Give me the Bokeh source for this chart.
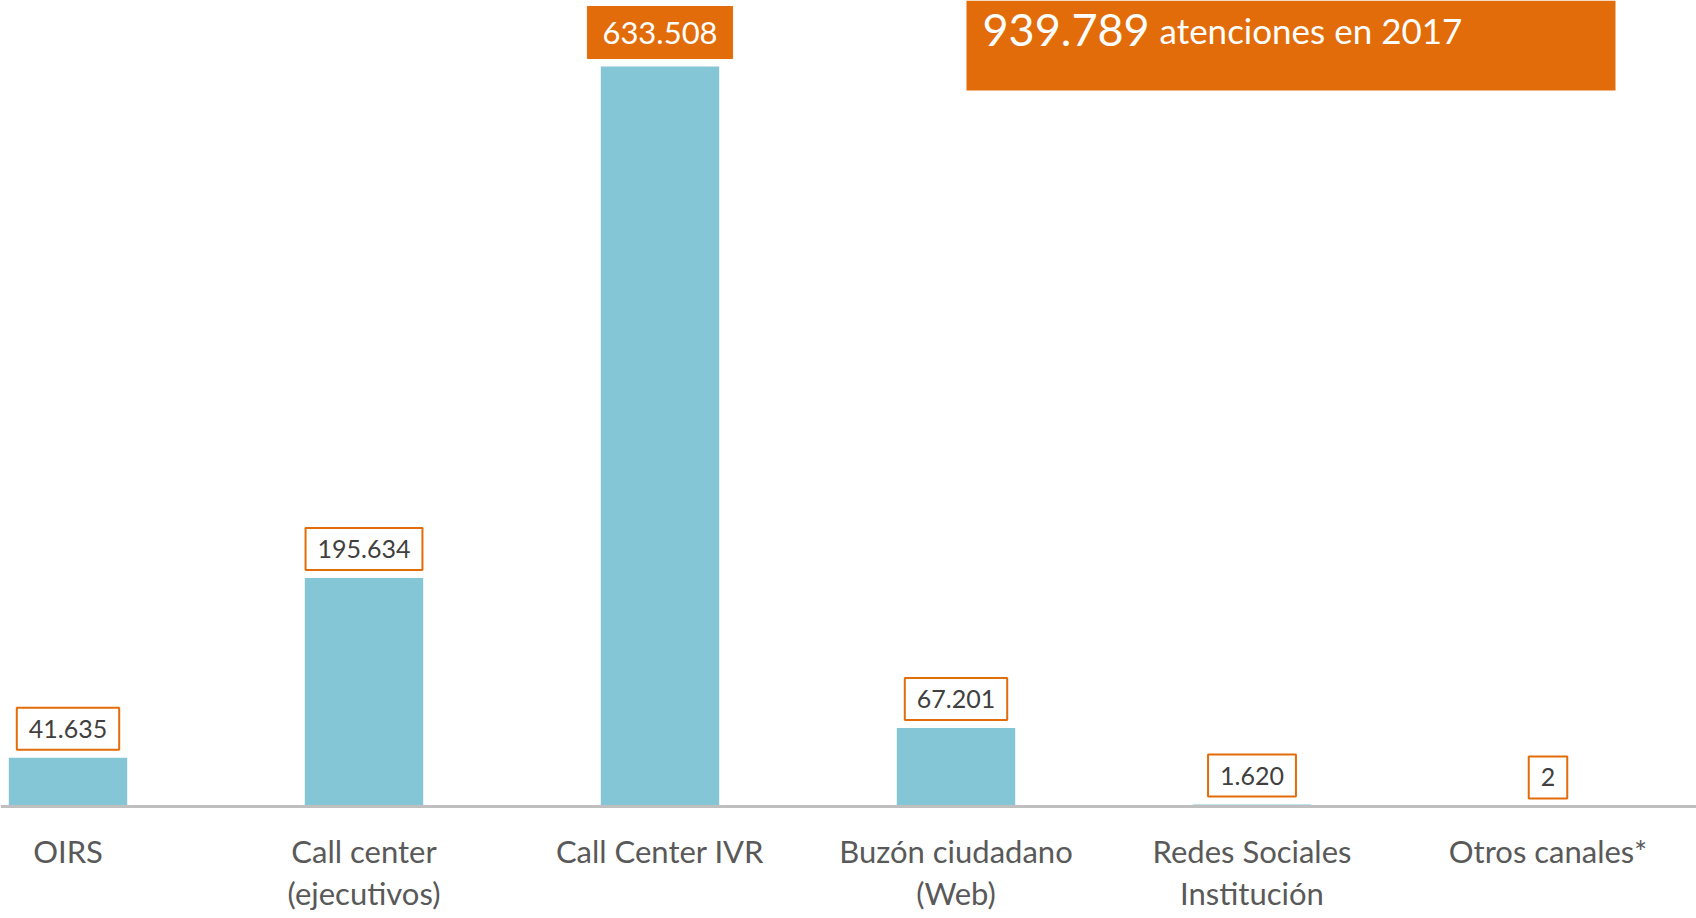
from bokeh.plotting import figure
from bokeh.models import Range1d, Span, Label, BoxAnnotation, ColumnDataSource
from bokeh.core.properties import value
from bokeh.embed import file_html
from bokeh.resources import INLINE

# ---- data ----
categories = ["OIRS", "Call center\n(ejecutivos)", "Call Center IVR",
              "Buzón ciudadano\n(Web)", "Redes Sociales\nInstitución", "Otros canales*"]
values = [41635, 195634, 633508, 67201, 1620, 2]
total_text = "939.789"
total_caption = "atenciones en 2017"

# ---- layout helpers (pixel geometry of the page) ----
W, H = 1696, 918
PAGE_L, PAGE_T = 0, 0
CAT_PX = 296.0          # pixels per category
FIRST_CENTER_PX = 67.5  # page x of first category centre
BASE_PX = 806.0         # page y of the zero line
UNIT_PER_PX = 856.1     # data units per vertical pixel

x_start = -(FIRST_CENTER_PX - PAGE_L) / CAT_PX
x_end = x_start + W / CAT_PX
y_end = (BASE_PX - PAGE_T) * UNIT_PER_PX
y_start = (BASE_PX - (PAGE_T + H)) * UNIT_PER_PX

def px2x(px):
    return x_start + (px - PAGE_L) / CAT_PX

def py2y(py):
    return (BASE_PX - py) * UNIT_PER_PX

BAR = "#84C5D6"
ORANGE = "#E36C0A"
FONT = "Lato"

p = figure(width=W, height=H, output_backend="svg", toolbar_location=None,
           x_range=Range1d(x_start, x_end), y_range=Range1d(y_start, y_end),
           min_border=0)
p.axis.visible = False
p.grid.visible = False
p.outline_line_color = None
p.background_fill_color = "white"

xs = list(range(len(categories)))
src = ColumnDataSource(dict(x=xs, top=values, cat=categories))
p.vbar(x="x", top="top", width=0.4, source=src, fill_color=BAR, line_color=None)

p.add_layout(Span(location=0, dimension="width", line_color="#BFBFBF", line_width=3))

# category labels below the baseline
p.text(x="x", y=0, text="cat", source=src, text_align="center", text_baseline="top",
       y_offset=25, text_font=value(FONT), text_font_size="31px",
       text_color="#595959", text_line_height=1.12)

# value labels
imax = values.index(max(values))
for i, v in enumerate(values):
    txt = f"{v:,}".replace(",", ".")
    if i == imax:
        lab = Label(x=i, y=v, text=txt, text_align="center", text_baseline="bottom",
                    y_offset=8, text_font=FONT, text_font_size="31px",
                    text_color="white", background_fill_color=ORANGE,
                    border_line_color=ORANGE, padding=15)
    else:
        lab = Label(x=i, y=v, text=txt, text_align="center", text_baseline="bottom",
                    y_offset=8, text_font=FONT, text_font_size="25px",
                    text_color="#404040", background_fill_color="white",
                    border_line_color=ORANGE, border_line_width=2, padding=12)
    p.add_layout(lab)

# total box
p.add_layout(BoxAnnotation(left=px2x(966), right=px2x(1615), bottom=py2y(90), top=py2y(0),
                           fill_color=ORANGE, fill_alpha=1.0, line_color=None))
p.add_layout(Label(x=px2x(982), y=py2y(29), text=total_text, text_font=FONT,
                   text_font_size="45px", text_color="white", text_baseline="alphabetic"))
p.add_layout(Label(x=px2x(1159), y=py2y(29), text=total_caption, text_font=FONT,
                   text_font_size="35px", text_color="white", text_baseline="alphabetic"))

open("out.html", "w").write(file_html(p, INLINE))
